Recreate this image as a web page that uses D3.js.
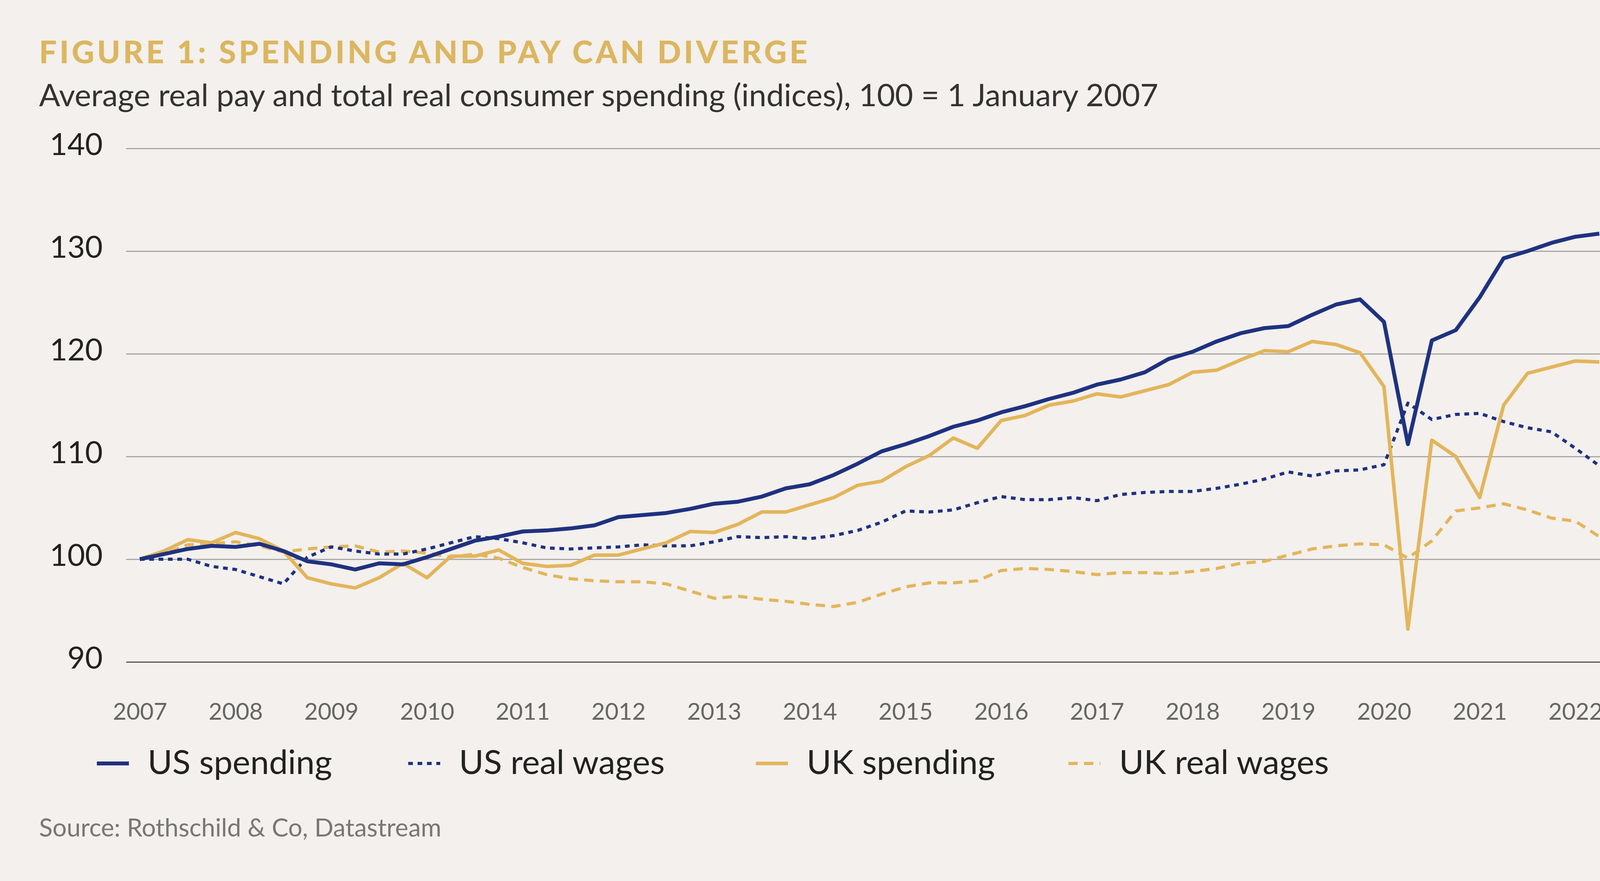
<!DOCTYPE html>
<html><head><meta charset="utf-8">
<script src="https://cdn.jsdelivr.net/npm/d3@7"></script>
<style>html,body{margin:0;padding:0;overflow:hidden;background:#f3f0ed;font-family:Lato,"Open Sans",sans-serif}svg{display:block}</style>
</head><body><svg id="c"></svg>
<script>
// quarterly, starting 2007 Q1
var startYear = 2007;
var usSpending = [100,100.5,101,101.3,101.2,101.5,100.8,99.8,99.5,99,99.6,99.5,100.2,101,101.8,102.2,102.7,102.8,103,103.3,104.1,104.3,104.5,104.9,105.4,105.6,106.1,106.9,107.3,108.2,109.3,110.5,111.2,112,112.9,113.5,114.3,114.9,115.6,116.2,117,117.5,118.2,119.5,120.2,121.2,122,122.5,122.7,123.8,124.8,125.3,123.1,111.2,121.3,122.3,125.5,129.3,130,130.8,131.4,131.7];
var usWages = [100,100,100,99.3,99,98.3,97.6,100.2,101.2,100.8,100.5,100.5,101,101.6,102.2,102,101.6,101.1,101,101.1,101.2,101.4,101.3,101.3,101.7,102.2,102.1,102.2,102,102.3,102.8,103.6,104.7,104.6,104.8,105.5,106.1,105.8,105.8,106,105.7,106.3,106.5,106.6,106.6,106.9,107.3,107.8,108.5,108.1,108.6,108.7,109.2,115.2,113.6,114.1,114.2,113.4,112.8,112.4,110.8,109.1];
var ukSpending = [100,100.8,101.9,101.6,102.6,102,100.8,98.2,97.6,97.2,98.2,99.6,98.2,100.3,100.3,100.9,99.6,99.3,99.4,100.4,100.4,101,101.6,102.7,102.6,103.4,104.6,104.6,105.3,106,107.2,107.6,109,110.1,111.8,110.8,113.5,114,115,115.4,116.1,115.8,116.4,117,118.2,118.4,119.4,120.3,120.2,121.2,120.9,120.1,116.8,93.2,111.6,110,106,115,118.1,118.7,119.3,119.2];
var ukWages = [100,100.5,101.4,101.5,101.7,101.3,100.7,101,101.2,101.3,100.7,100.8,100.6,100.2,100.5,100.1,99.2,98.5,98.1,97.9,97.8,97.8,97.6,96.9,96.2,96.4,96.1,95.9,95.6,95.4,95.8,96.6,97.3,97.7,97.7,97.9,98.9,99.1,99,98.8,98.5,98.7,98.7,98.6,98.8,99.1,99.6,99.8,100.4,101,101.3,101.5,101.4,100.1,101.8,104.7,105,105.4,104.8,104,103.7,102.2];
var yTicks = [90,100,110,120,130,140];
var xTicks = d3.range(2007, 2023);
var seriesNames = ["US spending","US real wages","UK spending","UK real wages"];

var W = 4224, H = 2256, navy = "#1f3280", gold = "#e3b55b";
var svg = d3.select("#c").attr("width", W).attr("height", H);
svg.append("rect").attr("width", W).attr("height", H).attr("fill", "#f3f0ed");

var x = d3.scaleLinear().domain([2007, 2022]).range([358, 4033]);
var y = d3.scaleLinear().domain([90, 140]).range([1695, 380]);

svg.append("text").attr("x", 100).attr("y", 162).attr("fill", "#dcb660")
  .attr("font-size", 80).attr("font-weight", 900).attr("letter-spacing", 7)
  .text("FIGURE 1: SPENDING AND PAY CAN DIVERGE");
svg.append("text").attr("x", 100).attr("y", 272).attr("fill", "#333")
  .attr("font-size", 80).text("Average real pay and total real consumer spending (indices), 100 = 1 January 2007");

var yAxis = svg.append("g").attr("transform", "translate(323,0)")
  .call(d3.axisLeft(y).tickValues(yTicks).tickSize(-3804).tickPadding(60));
yAxis.select(".domain").remove();
yAxis.selectAll("line").attr("stroke", function(d){ return d === 90 ? "#555" : "#a8a8a8"; }).attr("stroke-width", 3);
yAxis.selectAll("text").attr("font-size", 78).attr("fill", "#222").attr("font-family", "Lato")
  .attr("transform", "translate(0,-8)");

var xAxis = svg.append("g").attr("transform", "translate(0,1695)")
  .call(d3.axisBottom(x).tickValues(xTicks).tickFormat(d3.format("d")).tickSize(0).tickPadding(105));
xAxis.select(".domain").remove();
xAxis.selectAll("text").attr("font-size", 60).attr("fill", "#666").attr("font-family", "Lato");

var line = d3.line().x(function(d, i){ return x(startYear + i / 4); }).y(function(d){ return y(d); });
var styles = [
  {data: usSpending, c: navy, w: 10, dash: null},
  {data: usWages, c: navy, w: 8, dash: "12,12"},
  {data: ukSpending, c: gold, w: 9, dash: null},
  {data: ukWages, c: gold, w: 8, dash: "24,16"}
];
// draw order: wages first, then spending
[3,1,2,0].forEach(function(k){
  var s = styles[k];
  svg.append("path").datum(s.data).attr("d", line).attr("fill", "none")
    .attr("stroke", s.c).attr("stroke-width", s.w).attr("stroke-linejoin", "round")
    .attr("stroke-dasharray", s.dash);
});

var legX = [248, 1045, 1935, 2735];
seriesNames.forEach(function(n, k){
  var s = styles[k];
  svg.append("line").attr("x1", legX[k]).attr("x2", legX[k] + 82).attr("y1", 1955).attr("y2", 1955)
    .attr("stroke", s.c).attr("stroke-width", s.w).attr("stroke-dasharray", s.dash);
  svg.append("text").attr("x", legX[k] + 130).attr("y", 1982).attr("font-size", 86).attr("fill", "#222").text(n);
});

svg.append("text").attr("x", 100).attr("y", 2142).attr("font-size", 64).attr("fill", "#777")
  .text("Source: Rothschild & Co, Datastream");
</script></body></html>
